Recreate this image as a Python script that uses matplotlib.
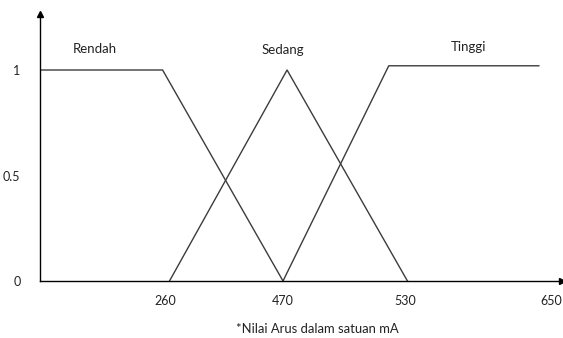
import numpy as np
import matplotlib
matplotlib.use("Agg")
import matplotlib.pyplot as plt

# Titik-titik fungsi keanggotaan (nilai arus, derajat keanggotaan)
rendah_x = [0, 255, 470]
rendah_y = [1, 1, 0]
sedang_x = [268, 472, 532]
sedang_y = [0, 1, 0]
tinggi_x = [470, 522, 640]
tinggi_y = [0, 1.02, 1.02]

x_ticks = [260, 470, 530, 650]
y_ticks = [0, 0.5, 1]
y_labels = ["0", "0.5", "1"]
label_himpunan = ["Rendah", "Sedang", "Tinggi"]
label_pos = [(114, 1.10), (470, 1.095), (582, 1.11)]
keterangan = "*Nilai Arus dalam satuan mA"

plt.rcParams["font.family"] = ["Lato", "DejaVu Sans"]

# Sumbu x pada gambar asli tidak linear, jadi dipetakan per segmen
xv = [0, 260, 470, 530, 650, 700]
xp = [0, 125, 243, 365, 511, 572]


def fwd(v):
    return np.interp(v, xv, xp)


def inv(p):
    return np.interp(p, xp, xv)


fig = plt.figure(figsize=(5.63, 3.38), dpi=100)
ax = fig.add_axes([40 / 563, 1 - 281 / 338, 522 / 563, 267 / 338])
ax.set_xscale("function", functions=(fwd, inv))
ax.set_xlim(0, 659)
ax.set_ylim(0, 267 / 211)

warna = "#3c3c3c"
ax.plot(rendah_x, rendah_y, color=warna, lw=1)
ax.plot(sedang_x, sedang_y, color=warna, lw=1)
ax.plot(tinggi_x, tinggi_y, color=warna, lw=1)

for teks, (px, py) in zip(label_himpunan, label_pos):
    ax.text(px, py, teks, ha="center", va="center", fontsize=9.5, color="#222222")

ax.spines["top"].set_visible(False)
ax.spines["right"].set_visible(False)
for s in ["left", "bottom"]:
    ax.spines[s].set_color("black")
    ax.spines[s].set_linewidth(1)

ax.plot(1, 0, ">k", markersize=5, transform=ax.get_yaxis_transform(), clip_on=False)
ax.plot(0, 1, "^k", markersize=5, transform=ax.get_xaxis_transform(), clip_on=False)

ax.set_xticks(x_ticks)
ax.set_xticklabels([str(t) for t in x_ticks])
ax.set_yticks(y_ticks)
ax.set_yticklabels(y_labels)
ax.tick_params(axis="both", length=0, labelsize=9, colors="#222222")
ax.tick_params(axis="x", pad=10)
ax.tick_params(axis="y", pad=14)
ax.minorticks_off()

fig.text(317 / 563, 1 - 329 / 338, keterangan, ha="center", va="center",
         fontsize=9.4, color="#222222")

fig.savefig("out.png", dpi=100)
